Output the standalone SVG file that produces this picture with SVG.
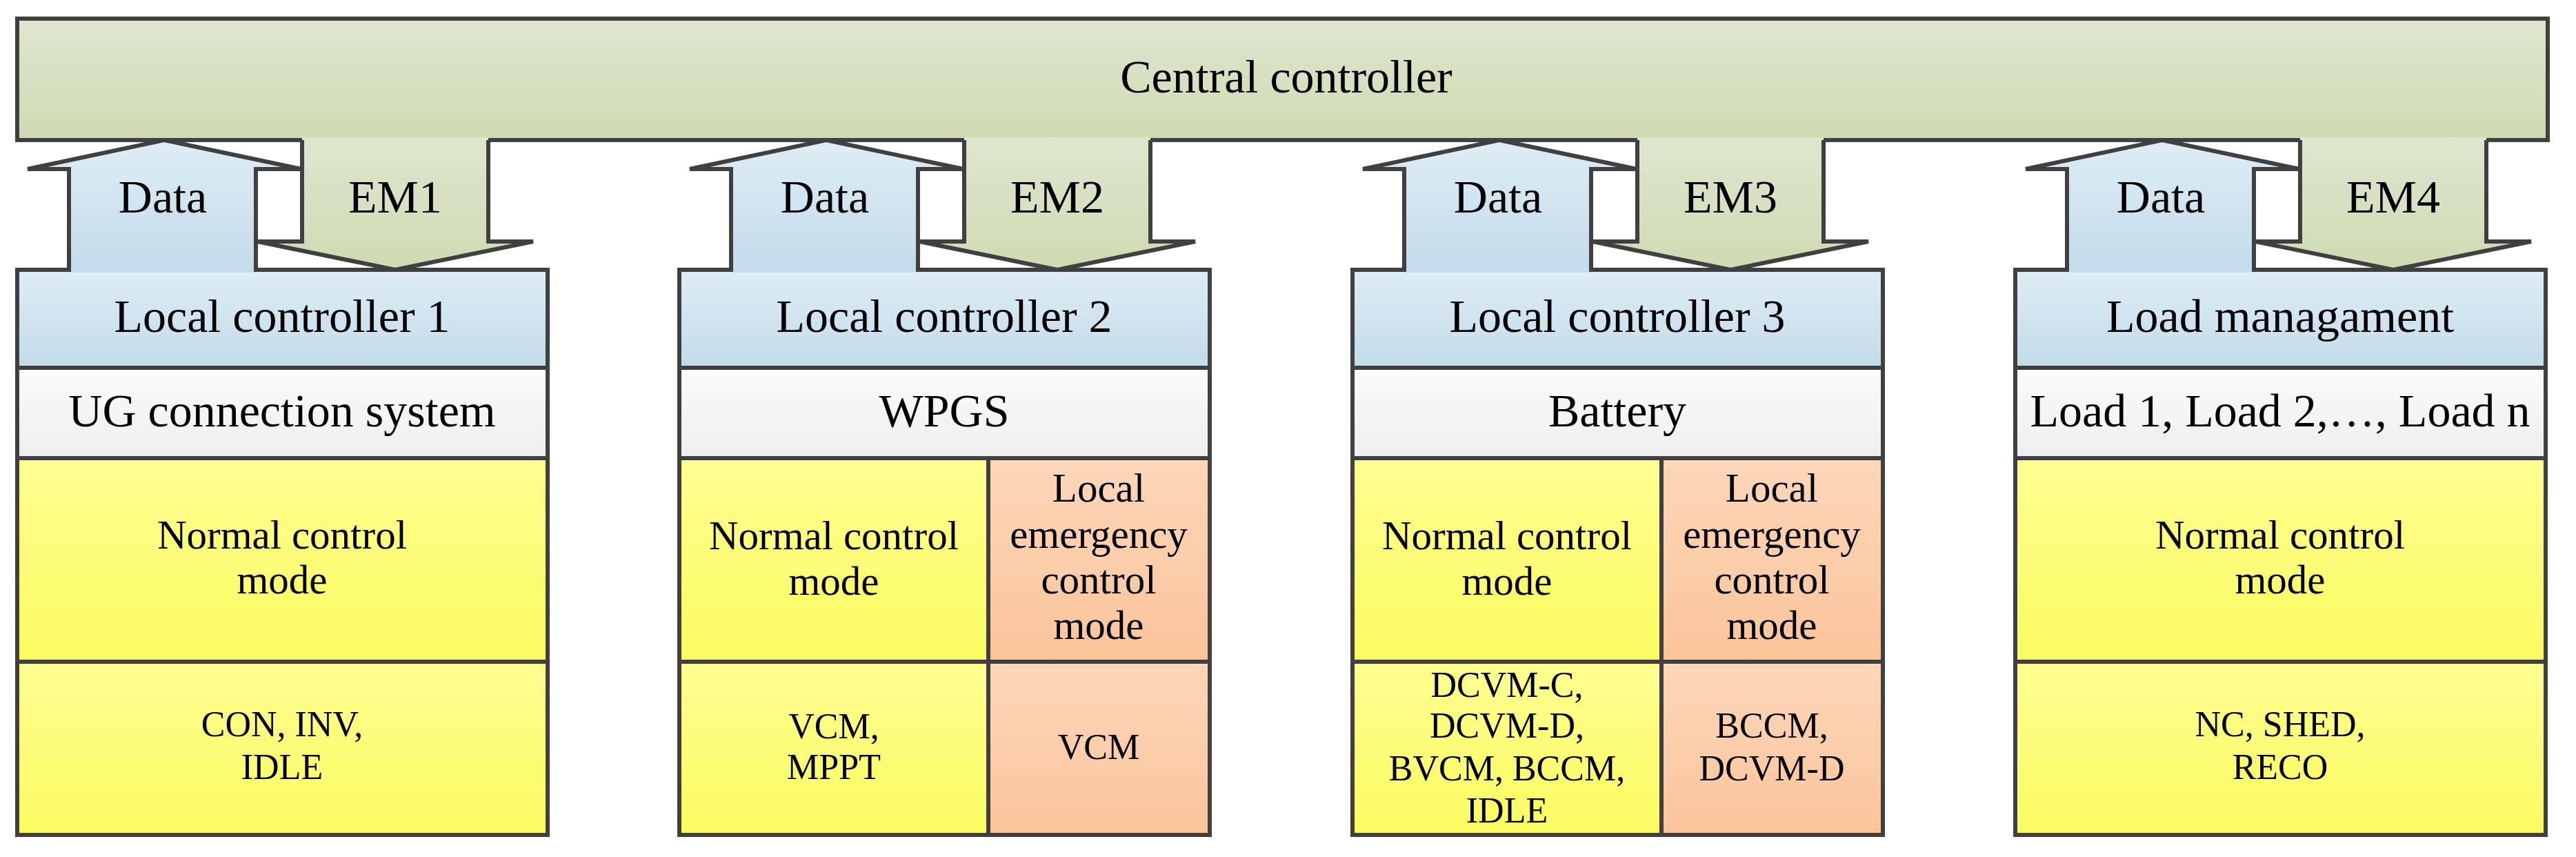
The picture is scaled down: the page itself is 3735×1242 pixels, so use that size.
<svg xmlns="http://www.w3.org/2000/svg" width="3735" height="1242" viewBox="0 0 3735 1242">
<defs>
<linearGradient id="gG" x1="0" y1="0" x2="0" y2="1"><stop offset="0" stop-color="#dfe6cf"/><stop offset="1" stop-color="#cfdab2"/></linearGradient>
<linearGradient id="gB" x1="0" y1="0" x2="0" y2="1"><stop offset="0" stop-color="#deedf5"/><stop offset="1" stop-color="#c3dbea"/></linearGradient>
<linearGradient id="gW" x1="0" y1="0" x2="0" y2="1"><stop offset="0" stop-color="#fbfbfb"/><stop offset="1" stop-color="#eeeeee"/></linearGradient>
<linearGradient id="gY" x1="0" y1="0" x2="0" y2="1"><stop offset="0" stop-color="#fefe92"/><stop offset="1" stop-color="#fbfb60"/></linearGradient>
<linearGradient id="gO" x1="0" y1="0" x2="0" y2="1"><stop offset="0" stop-color="#fdd7ba"/><stop offset="1" stop-color="#fbc49b"/></linearGradient>
</defs>
<style>
.s{stroke:#404040;stroke-width:6;stroke-linejoin:miter}
.o{fill:none;stroke:#404040;stroke-width:6}
.n{stroke:none}
text{font-family:"Liberation Serif","Times New Roman",serif;fill:#000;text-anchor:middle}
.t{font-size:68px}
.m{font-size:59px}
.b{font-size:52px}
</style>
<rect width="3735" height="1242" fill="#fff"/>
<g id="central">
<rect x="25" y="27" width="3669" height="176" fill="url(#gG)" class="s"/>
<text x="1865" y="134" class="t">Central controller</text>
</g>
<g id="col1">
<rect x="25" y="391" width="769" height="142" fill="url(#gB)" class="s"/>
<text x="409" y="481" class="t">Local controller 1</text>
<rect x="25" y="533" width="769" height="131" fill="url(#gW)" class="s"/>
<text x="409" y="618" class="t">UG connection system</text>
<rect x="25" y="664" width="769" height="295" fill="url(#gY)" class="s"/>
<text x="409" y="795" class="m">Normal control</text><text x="409" y="860" class="m">mode</text>
<rect x="25" y="959" width="769" height="251" fill="url(#gY)" class="s"/>
<text x="409" y="1067" class="b">CON, INV,</text><text x="409" y="1129" class="b">IDLE</text>
</g>
<g id="col2">
<rect x="985" y="391" width="769" height="142" fill="url(#gB)" class="s"/>
<text x="1369" y="481" class="t">Local controller 2</text>
<rect x="985" y="533" width="769" height="131" fill="url(#gW)" class="s"/>
<text x="1369" y="618" class="t">WPGS</text>
<rect x="985" y="664" width="448" height="295" fill="url(#gY)" class="s"/>
<rect x="1433" y="664" width="321" height="295" fill="url(#gO)" class="s"/>
<text x="1209" y="796" class="m">Normal control</text><text x="1209" y="862" class="m">mode</text>
<text x="1593" y="727" class="m">Local</text><text x="1593" y="794" class="m">emergency</text><text x="1593" y="860" class="m">control</text><text x="1593" y="926" class="m">mode</text>
<rect x="985" y="959" width="448" height="251" fill="url(#gY)" class="s"/>
<rect x="1433" y="959" width="321" height="251" fill="url(#gO)" class="s"/>
<text x="1209" y="1070" class="b">VCM,</text><text x="1209" y="1129" class="b">MPPT</text>
<text x="1593" y="1100" class="b">VCM</text>
</g>
<g id="col3">
<rect x="1961" y="391" width="769" height="142" fill="url(#gB)" class="s"/>
<text x="2345" y="481" class="t">Local controller 3</text>
<rect x="1961" y="533" width="769" height="131" fill="url(#gW)" class="s"/>
<text x="2345" y="618" class="t">Battery</text>
<rect x="1961" y="664" width="448" height="295" fill="url(#gY)" class="s"/>
<rect x="2409" y="664" width="321" height="295" fill="url(#gO)" class="s"/>
<text x="2185" y="796" class="m">Normal control</text><text x="2185" y="862" class="m">mode</text>
<text x="2569" y="727" class="m">Local</text><text x="2569" y="794" class="m">emergency</text><text x="2569" y="860" class="m">control</text><text x="2569" y="926" class="m">mode</text>
<rect x="1961" y="959" width="448" height="251" fill="url(#gY)" class="s"/>
<rect x="2409" y="959" width="321" height="251" fill="url(#gO)" class="s"/>
<text x="2185" y="1010" class="b">DCVM-C,</text><text x="2185" y="1069" class="b">DCVM-D,</text><text x="2185" y="1131" class="b">BVCM, BCCM,</text><text x="2185" y="1192" class="b">IDLE</text>
<text x="2569" y="1069" class="b">BCCM,</text><text x="2569" y="1131" class="b">DCVM-D</text>
</g>
<g id="col4">
<rect x="2922" y="391" width="769" height="142" fill="url(#gB)" class="s"/>
<text x="3306" y="481" class="t">Load managament</text>
<rect x="2922" y="533" width="769" height="131" fill="url(#gW)" class="s"/>
<text x="3306" y="618" class="t">Load 1, Load 2,…, Load n</text>
<rect x="2922" y="664" width="769" height="295" fill="url(#gY)" class="s"/>
<text x="3306" y="795" class="m">Normal control</text><text x="3306" y="860" class="m">mode</text>
<rect x="2922" y="959" width="769" height="251" fill="url(#gY)" class="s"/>
<text x="3306" y="1067" class="b">NC, SHED,</text><text x="3306" y="1129" class="b">RECO</text>
</g>
<g id="connectors">
<g id="arrows1" transform="translate(25,0)">
<polygon class="n" fill="url(#gB)" points="75,395 75,245 15,245 213,203 412,245 346,245 346,395"/>
<polyline class="o" points="0,391 75,391 75,245 15,245 213,203 412,245 346,245 346,391 413,391"/>
<polygon class="n" fill="url(#gG)" points="413,199 413,350 348,350 548,391 748,350 683,350 683,199"/>
<polyline class="o" points="413,203 413,350 348,350 548,391 748,350 683,350 683,203"/>
<text x="211" y="308" class="t">Data</text><text x="548" y="308" class="t">EM1</text>
</g>
<g id="arrows2" transform="translate(985,0)">
<polygon class="n" fill="url(#gB)" points="75,395 75,245 15,245 213,203 412,245 346,245 346,395"/>
<polyline class="o" points="0,391 75,391 75,245 15,245 213,203 412,245 346,245 346,391 413,391"/>
<polygon class="n" fill="url(#gG)" points="413,199 413,350 348,350 548,391 748,350 683,350 683,199"/>
<polyline class="o" points="413,203 413,350 348,350 548,391 748,350 683,350 683,203"/>
<text x="211" y="308" class="t">Data</text><text x="548" y="308" class="t">EM2</text>
</g>
<g id="arrows3" transform="translate(1961,0)">
<polygon class="n" fill="url(#gB)" points="75,395 75,245 15,245 213,203 412,245 346,245 346,395"/>
<polyline class="o" points="0,391 75,391 75,245 15,245 213,203 412,245 346,245 346,391 413,391"/>
<polygon class="n" fill="url(#gG)" points="413,199 413,350 348,350 548,391 748,350 683,350 683,199"/>
<polyline class="o" points="413,203 413,350 348,350 548,391 748,350 683,350 683,203"/>
<text x="211" y="308" class="t">Data</text><text x="548" y="308" class="t">EM3</text>
</g>
<g id="arrows4" transform="translate(2922,0)">
<polygon class="n" fill="url(#gB)" points="75,395 75,245 15,245 213,203 412,245 346,245 346,395"/>
<polyline class="o" points="0,391 75,391 75,245 15,245 213,203 412,245 346,245 346,391 413,391"/>
<polygon class="n" fill="url(#gG)" points="413,199 413,350 348,350 548,391 748,350 683,350 683,199"/>
<polyline class="o" points="413,203 413,350 348,350 548,391 748,350 683,350 683,203"/>
<text x="211" y="308" class="t">Data</text><text x="548" y="308" class="t">EM4</text>
</g>
</g>
</svg>
